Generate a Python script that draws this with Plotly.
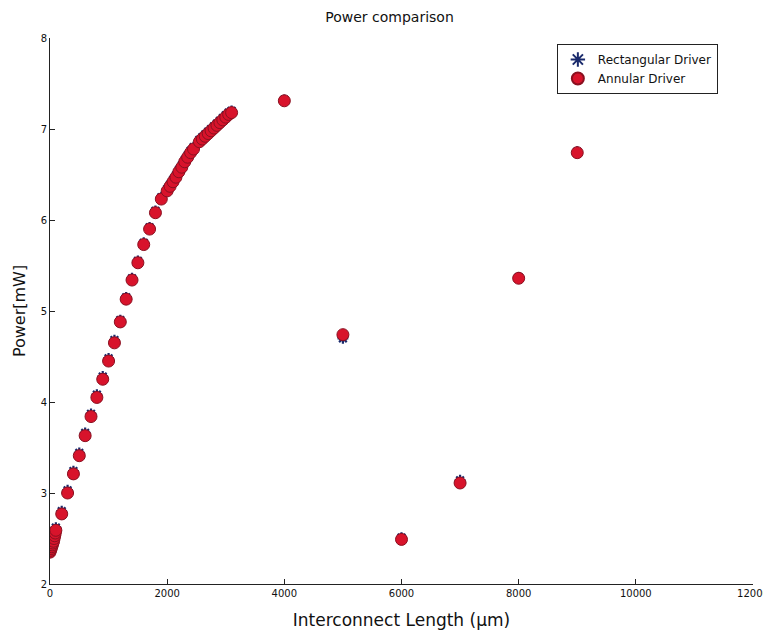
import plotly.graph_objects as go

# Interconnect length (um)
length_um = [0, 10, 20, 30, 40, 50, 60, 70, 80, 90, 100,
             200, 300, 400, 500, 600, 700, 800, 900, 1000, 1100, 1200, 1300,
             1400, 1500, 1600, 1700, 1800, 1900,
             2000, 2050, 2100, 2150, 2200, 2250, 2300, 2350, 2400, 2450,
             2550, 2600, 2650, 2700, 2750, 2800, 2850, 2900, 2950, 3000, 3050, 3100,
             4000, 5000, 6000, 7000, 8000, 9000]

# Annular driver power (mW)
annular_mw = [2.35, 2.37, 2.39, 2.41, 2.43, 2.45, 2.47, 2.50, 2.53, 2.56, 2.59,
              2.77, 3.00, 3.21, 3.41, 3.63, 3.84, 4.05, 4.25, 4.45, 4.65, 4.88, 5.13,
              5.34, 5.53, 5.73, 5.90, 6.08, 6.23,
              6.32, 6.37, 6.42, 6.47, 6.53, 6.58, 6.64, 6.69, 6.74, 6.78,
              6.86, 6.89, 6.92, 6.95, 6.98, 7.01, 7.04, 7.07, 7.10, 7.13, 7.16, 7.18,
              7.31, 4.74, 2.49, 3.11, 5.36, 6.74]

# Rectangular driver power (mW)
rect_mw = [2.38, 2.40, 2.42, 2.44, 2.46, 2.48, 2.50, 2.53, 2.56, 2.59, 2.62,
           2.80, 3.03, 3.24, 3.44, 3.66, 3.87, 4.08, 4.28, 4.48, 4.68, 4.90, 5.15,
           5.36, 5.55, 5.75, 5.92, 6.10, 6.25,
           6.34, 6.39, 6.44, 6.49, 6.55, 6.60, 6.66, 6.71, 6.76, 6.80,
           6.88, 6.91, 6.94, 6.97, 7.00, 7.03, 7.06, 7.09, 7.12, 7.15, 7.18, 7.20,
           7.32, 4.70, 2.51, 3.14, 5.37, 6.75]

x_ticks = [0, 2000, 4000, 6000, 8000, 10000, 12000]
y_ticks = [2, 3, 4, 5, 6, 7, 8]

FONT = "DejaVu Sans, Arial, sans-serif"

fig = go.Figure()
fig.add_trace(go.Scatter(
    x=length_um, y=rect_mw, mode="markers", name="Rectangular Driver",
    marker=dict(symbol="asterisk-open", size=9, color="#1a2a6c",
                line=dict(color="#1a2a6c", width=2.2)),
))
fig.add_trace(go.Scatter(
    x=length_um, y=annular_mw, mode="markers", name="Annular Driver",
    marker=dict(symbol="circle", size=12, color="#d8132b",
                line=dict(color="#8a1020", width=1)),
))

axis_common = dict(
    showline=True, linecolor="#222", linewidth=1, mirror=False, automargin=False,
    ticks="inside", ticklen=5, tickcolor="#222", showgrid=False, zeroline=False,
    tickfont=dict(family=FONT, size=10, color="#111"),
)

fig.update_layout(
    width=763, height=633,
    paper_bgcolor="white", plot_bgcolor="white",
    margin=dict(l=42, r=18, t=30, b=57),
    title=dict(text="Power comparison", x=0.5, xanchor="center", y=0.985, yanchor="middle",
               font=dict(family=FONT, size=14, color="#111")),
    xaxis=dict(range=[0, 12000], tickvals=x_ticks, ticktext=[str(v) for v in x_ticks],
               title=dict(text="Interconnect Length (µm)", standoff=16,
                          font=dict(family=FONT, size=17, color="#111")),
               **axis_common),
    yaxis=dict(range=[2, 8], tickvals=y_ticks, ticktext=[str(v) for v in y_ticks],
               title=dict(text="Power[mW]", standoff=11,
                          font=dict(family=FONT, size=16, color="#111")),
               **axis_common),
    legend=dict(x=0.721, y=0.989, xanchor="left", yanchor="top",
                bgcolor="white", bordercolor="#222", borderwidth=1,
                font=dict(family=FONT, size=12, color="#111"),
                itemsizing="constant", tracegroupgap=0),
    showlegend=True,
)

fig.write_html("out.html")
